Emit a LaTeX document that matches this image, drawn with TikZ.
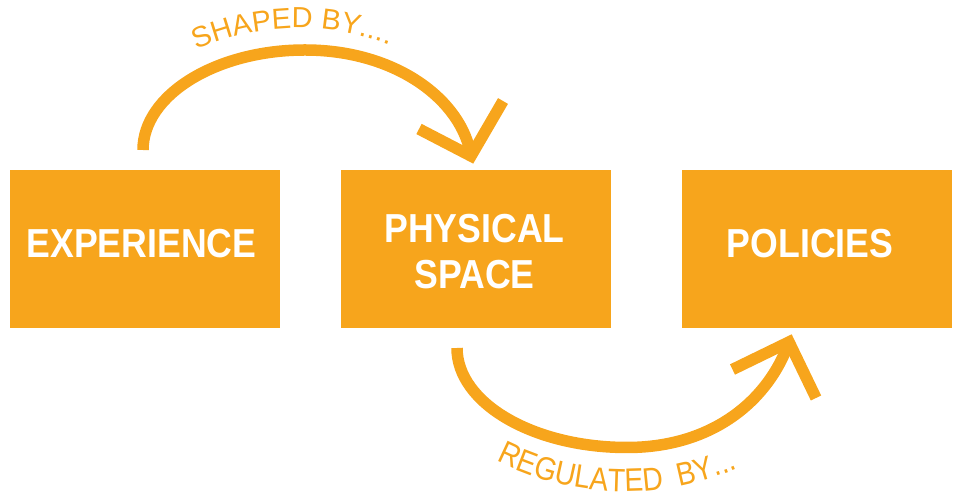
\documentclass[tikz,border=0pt]{standalone}
\usepackage{fontspec}
\setmainfont{Liberation Sans}
\newfontfamily\boxfont[FakeStretch=0.88]{Liberation Sans Bold}
\newfontfamily\toplabelfont{Liberation Sans}
\newfontfamily\botlabelfont[FakeStretch=0.87]{Liberation Sans}
\usetikzlibrary{decorations.text}
\definecolor{ora}{HTML}{F7A51C}
\begin{document}
\begin{tikzpicture}[x=1pt,y=1pt,
  box/.style={fill=ora, minimum width=270pt, minimum height=158pt, inner sep=0pt},
  boxlabel/.style={text=white, font=\boxfont\fontsize{40.5}{46}\selectfont, align=center, inner sep=0pt},
  flow/.style={draw=ora, line width=11.5pt},
  chevron/.style={draw=ora, line width=11.5pt, line join=miter, miter limit=10},
]
\useasboundingbox (0,0) rectangle (958,494);
% boxes
\node[box] (exp) at (145,245) {};
\node[box] (phys) at (476,245) {};
\node[box] (pol) at (817,245) {};
\node[boxlabel] (expl) at (141.5,250.5) {EXPERIENCE};
\node[boxlabel] (physl) at (474.5,242) {PHYSICAL\\SPACE};
\node[boxlabel] (poll) at (810,250.5) {POLICIES};
% top arrow
\coordinate (a1s) at (143,344);
\coordinate (a1v) at (471,338);
\coordinate (a1l) at (419,365);
\coordinate (a1r) at (503,393);
\draw[flow] (a1s) .. controls (143,399) and (216,444) .. (305,444)
  .. controls (396,444) and (462,394) .. (a1v);
\draw[chevron] (a1l) -- (a1v) -- (a1r);
% bottom arrow
\coordinate (a2s) at (457,146);
\coordinate (a2v) at (789,152);
\coordinate (a2l) at (732.5,124.5);
\coordinate (a2r) at (816,96);
\draw[flow] (a2s) .. controls (457,91) and (533,46.5) .. (627,46.5)
  .. controls (716,46.5) and (770,97) .. (a2v);
\draw[chevron] (a2l) -- (a2v) -- (a2r);
% labels
\path[shift={(299,217)}, decorate, decoration={text along path,
  text={|\toplabelfont\fontsize{29}{29}\selectfont\color{ora}|SHAPED BY....},
  text align=center}]
  (126.5:249) arc[start angle=126.5, end angle=56.5, radius=249];
\path[shift={(625,286)}, decorate, decoration={text along path,
  text={|\botlabelfont\fontsize{32.5}{32.5}\selectfont\color{ora}|REGULATED{\ \ }BY...},
  text align=center}]
  (233.2:283.6) arc[start angle=233.2, end angle=303.2, radius=283.6];
\end{tikzpicture}
\end{document}
